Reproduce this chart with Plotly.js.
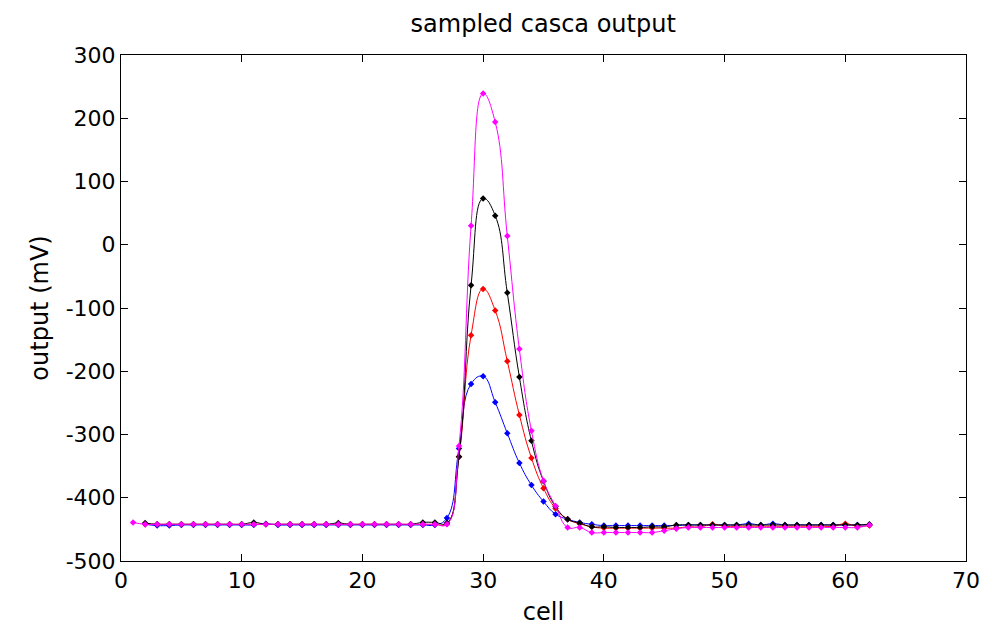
<!DOCTYPE html>
<html>
<head>
<meta charset="utf-8">
<script src="https://cdn.plot.ly/plotly-3.0.1.min.js"></script>
<style>html,body{margin:0;padding:0;background:#fff;}#chart{width:985px;height:626px;}</style>
</head>
<body>
<div id="chart"></div>
<script>
// Cells (x positions of samples)
const cellsMagenta = [1,2,3,4,5,6,7,8,9,10,11,12,13,14,15,16,17,18,19,20,21,22,23,24,25,26,27,28,29,30,31,32,33,34,35,36,37,38,39,40,41,42,43,44,45,46,47,48,49,50,51,52,53,54,55,56,57,58,59,60,61,62];
const cellsOther = [2,3,4,5,6,7,8,9,10,11,12,13,14,15,16,17,18,19,20,21,22,23,24,25,26,27,28,29,30,31,32,33,34,35,36,37,38,39,40,41,42,43,44,45,46,47,48,49,50,51,52,53,54,55,56,57,58,59,60,61,62];

// Output (mV) per series
const blackOut = [-440,-442,-442,-442,-442,-442,-442,-442,-442,-439,-442,-442,-442,-442,-442,-442,-440,-442,-442,-442,-442,-442,-442,-439,-439,-440,
  -335,-64,73,46,-76,-209,-310,-374,-414,-434,-440,-446,-446,-447,-447,-447,-446,-446,
  -443,-443,-443,-443,-443,-443,-443,-443,-443,-443,-443,-443,-443,-443,-443,-443,-442];
const redOut = [-442,-442,-442,-442,-442,-442,-442,-442,-442,-442,-442,-442,-442,-442,-442,-442,-442,-442,-442,-442,-442,-442,-442,-442,-442,-441,
  -335,-143,-70,-104,-184,-269,-337,-385,-417,-434,-441,-446,-448,-448,-448,-448,-448,-448,-448,
  -446,-446,-442,-445,-445,-445,-445,-445,-445,-445,-445,-445,-445,-441,-445,-444];
const blueOut = [-442,-444,-444,-443,-443,-443,-443,-443,-443,-443,-441,-443,-443,-443,-443,-443,-443,-443,-443,-443,-443,-443,-443,-443,-443,-432,
  -322,-220,-208,-249,-298,-345,-380,-406,-426,-434,-439,-442,-444,-444,-444,-444,-444,-444,-444,
  -443,-443,-443,-443,-443,-441,-443,-441,-443,-443,-443,-443,-443,-443,-443,-443];
const magentaOut = [-439,-442,-442,-442,-442,-442,-442,-442,-442,-442,-442,-442,-442,-442,-442,-442,-442,-442,-442,-442,-442,-442,-442,-442,-442,-442,-442,
  -318,30,239,194,14,-165,-294,-373,-413,-447,-447,-455,-455,-455,-455,-455,-455,-452,-449,
  -447,-447,-447,-447,-447,-447,-447,-447,-447,-447,-447,-447,-447,-447,-447,-443];

const xTicks = [0,10,20,30,40,50,60,70];
const xTickText = ['0','10','20','30','40','50','60','70'];
const yTicks = [-500,-400,-300,-200,-100,0,100,200,300];
const yTickText = ['-500','-400','-300','-200','-100','0','100','200','300'];

const FONT = 'DejaVu Sans, Liberation Sans, Arial, sans-serif';

function series(x, y, color) {
  return {
    x: x, y: y, type: 'scatter', mode: 'lines+markers',
    line: {color: color, width: 1, shape: 'spline', smoothing: 1.3},
    marker: {color: color, size: 5, symbol: 'diamond'},
    hoverinfo: 'x+y', showlegend: false
  };
}

const data = [
  series(cellsOther, blueOut, '#0000ff'),
  series(cellsOther, redOut, '#ff0000'),
  series(cellsOther, blackOut, '#000000'),
  series(cellsMagenta, magentaOut, '#ff00ff')
];

const axisCommon = {
  showline: true, linecolor: '#000', linewidth: 1, mirror: 'ticks',
  ticks: 'inside', ticklen: 7, tickwidth: 1, tickcolor: '#000',
  showgrid: false, zeroline: false,
  tickfont: {family: FONT, size: 22, color: '#000'}
};

const layout = {
  width: 985, height: 626,
  paper_bgcolor: '#fff', plot_bgcolor: '#fff',
  margin: {l: 121, r: 19, t: 55, b: 65, pad: 0},
  title: {text: 'sampled casca output', font: {family: FONT, size: 24, color: '#000'},
          x: 0.5515, xanchor: 'center', y: 0.962, yanchor: 'middle', yref: 'container'},
  xaxis: Object.assign({}, axisCommon, {
    range: [0, 70], tickmode: 'array', tickvals: xTicks, ticktext: xTickText,
    title: {text: 'cell', font: {family: FONT, size: 24, color: '#000'}, standoff: 10}
  }),
  yaxis: Object.assign({}, axisCommon, {
    range: [-500, 300], tickmode: 'array', tickvals: yTicks, ticktext: yTickText,
    title: {text: 'output (mV)', font: {family: FONT, size: 24, color: '#000'}, standoff: 10}
  })
};

Plotly.newPlot('chart', data, layout, {displayModeBar: false, staticPlot: true});
</script>
</body>
</html>
